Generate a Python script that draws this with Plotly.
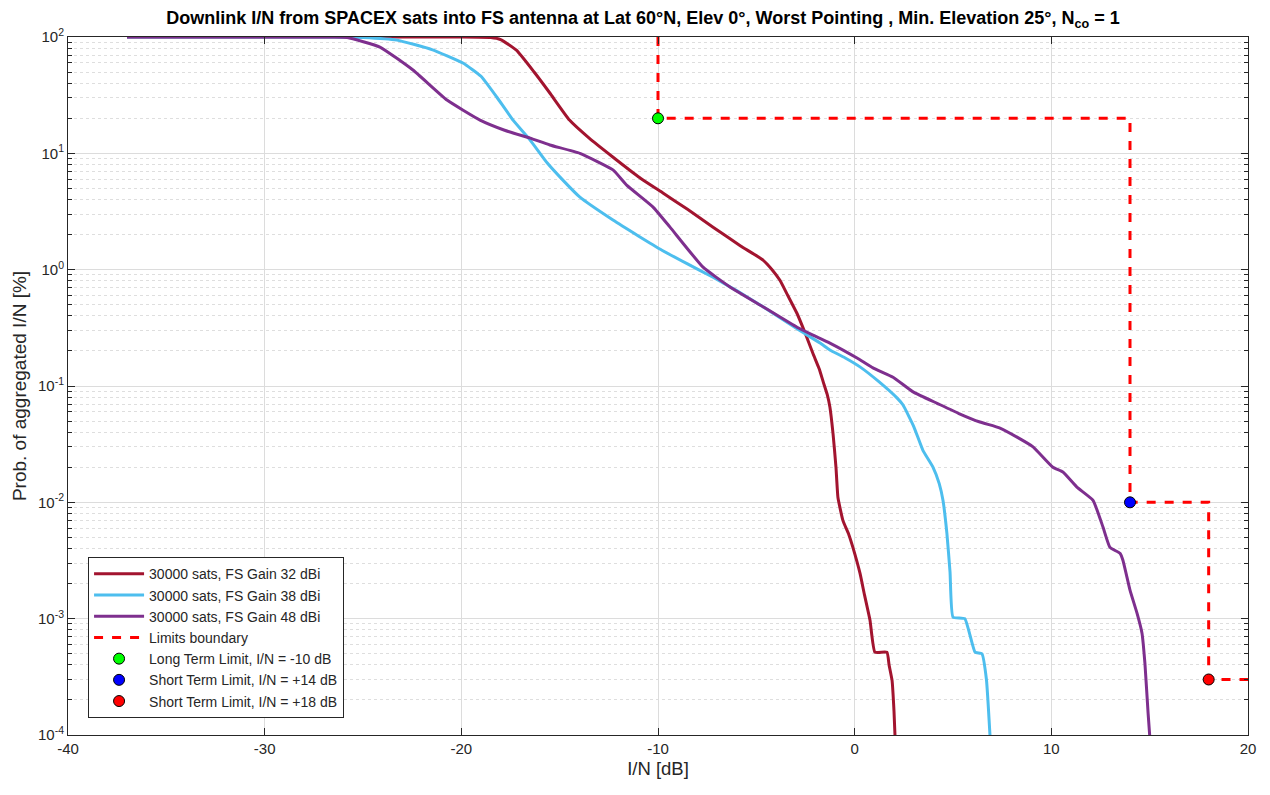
import plotly.graph_objects as go

# ---- data ----
x_32 = [-37, -20, -18.5, -18.0, -17.2, -16.3, -15.5, -14.5, -13.5, -12.3, -11.0, -9.75, -8.5, -7.2, -5.8, -4.66, -4.2, -3.8, -3.4, -2.93, -2.5, -2.12, -1.8, -1.61, -1.4, -1.26, -1.1, -0.95, -0.85, -0.6, -0.3, -0.09, 0.27, 0.5, 0.78, 1.03, 1.64, 1.75, 1.9, 2.0, 2.05]
y_32 = [100, 100, 99, 95, 77, 50, 33, 19.3, 13.5, 9.3, 6.3, 4.56, 3.3, 2.32, 1.6, 1.21, 1.0, 0.81, 0.6, 0.42, 0.28, 0.19, 0.14, 0.11, 0.085, 0.066, 0.039, 0.02, 0.011, 0.007, 0.0053, 0.0041, 0.00246, 0.0016, 0.00097, 0.000515, 0.000515, 0.0004, 0.000296, 0.00016, 0.0001]
x_38 = [-37, -26.5, -25.0, -23.27, -21.5, -19.92, -19.0, -18.2, -17.37, -16.5, -15.64, -14.8, -13.97, -12.29, -11.0, -9.8, -8.5, -7.2, -6.0, -4.66, -2.93, -1.76, -1.26, -0.5, 0.27, 1.2, 2.15, 2.46, 3.0, 3.47, 3.98, 4.3, 4.49, 4.69, 4.85, 5.0, 5.6, 6.12, 6.47, 6.7, 6.88]
y_38 = [100, 100, 99, 94, 78, 59.7, 46, 30.5, 19.3, 13, 8.3, 5.8, 4.2, 2.67, 1.95, 1.47, 1.12, 0.86, 0.66, 0.48, 0.31, 0.234, 0.204, 0.175, 0.146, 0.11, 0.079, 0.0686, 0.045, 0.028, 0.0201, 0.0145, 0.0104, 0.0054, 0.0025, 0.00103, 0.001, 0.000515, 0.0005, 0.0003, 0.0001]
x_48 = [-37, -26.5, -25.8, -24.14, -22.46, -20.73, -19.05, -17.8, -16.5, -15.5, -13.97, -12.29, -11.58, -10.25, -9.39, -7.71, -6.34, -4.66, -2.93, -2.12, -1.26, 0.12, 0.93, 1.95, 2.97, 4.19, 5.3, 6.37, 7.39, 8.3, 9.07, 10.08, 10.59, 11.3, 12.12, 12.63, 12.98, 13.49, 13.64, 14.0, 14.36, 14.61, 14.76, 14.92, 15.0]
y_48 = [100, 100, 99, 82, 52, 28.7, 19.3, 15.8, 13.5, 11.8, 10, 7.2, 5.3, 3.45, 2.32, 1.05, 0.71, 0.48, 0.32, 0.274, 0.234, 0.174, 0.143, 0.119, 0.089, 0.071, 0.058, 0.049, 0.0435, 0.036, 0.030, 0.020, 0.0182, 0.0135, 0.0104, 0.0061, 0.0041, 0.00365, 0.00318, 0.00176, 0.00111, 0.00075, 0.00041, 0.000154, 0.0001]
x_lim = [-10, -10, 14, 14, 18, 18, 20]
y_lim = [100, 20, 20, 0.01, 0.01, 0.0003, 0.0003]
pt_long = (-10, 20)
pt_short14 = (14, 0.01)
pt_short18 = (18, 0.0003)

names = ["30000 sats, FS Gain 32 dBi", "30000 sats, FS Gain 38 dBi", "30000 sats, FS Gain 48 dBi",
         "Limits boundary", "Long Term Limit, I/N = -10 dB", "Short Term Limit, I/N = +14 dB",
         "Short Term Limit, I/N = +18 dB"]

x_ticks = [-40, -30, -20, -10, 0, 10, 20]
y_ticks = [1e-4, 1e-3, 1e-2, 1e-1, 1, 10, 100]
y_ticktext = ["10<sup>-4</sup>", "10<sup>-3</sup>", "10<sup>-2</sup>", "10<sup>-1</sup>",
              "10<sup>0</sup>", "10<sup>1</sup>", "10<sup>2</sup>"]

fig = go.Figure()
fig.add_trace(go.Scatter(x=x_32, y=y_32, mode="lines", name=names[0],
                         line=dict(color="#A2142F", width=3, shape="spline", smoothing=0.4)))
fig.add_trace(go.Scatter(x=x_38, y=y_38, mode="lines", name=names[1],
                         line=dict(color="#4DBEEE", width=3, shape="spline", smoothing=0.4)))
fig.add_trace(go.Scatter(x=x_48, y=y_48, mode="lines", name=names[2],
                         line=dict(color="#7E2F8E", width=3, shape="spline", smoothing=0.4)))
fig.add_trace(go.Scatter(x=x_lim, y=y_lim, mode="lines", name=names[3],
                         line=dict(color="#FF0000", width=3, dash="dash")))
for (px, py), nm, col in [(pt_long, names[4], "#00FF00"), (pt_short14, names[5], "#0000FF"),
                          (pt_short18, names[6], "#FF0000")]:
    fig.add_trace(go.Scatter(x=[px], y=[py], mode="markers", name=nm,
                             marker=dict(color=col, size=11, line=dict(color="black", width=1)),
                             cliponaxis=False))

minor_vals = [m * 10 ** e for e in range(-4, 2) for m in range(2, 10)]

fig.update_layout(
    width=1270, height=795,
    paper_bgcolor="white", plot_bgcolor="white",
    margin=dict(l=60, r=30, t=29, b=68),
    font=dict(family="Liberation Sans, Arial, sans-serif", size=15, color="#262626"),
    title=dict(text="<b>Downlink I/N from SPACEX sats into FS antenna at Lat 60°N, Elev 0°, Worst Pointing , Min. Elevation 25°, N<sub>co</sub> = 1</b>",
               x=0.5, xref="container", xanchor="center", y=1 - 10 / 795, yref="container", yanchor="middle",
               font=dict(size=18, color="black")),
    showlegend=True,
    legend=dict(x=0.017, y=0.024, xanchor="left", yanchor="bottom",
                bgcolor="white", bordercolor="#262626", borderwidth=1,
                font=dict(size=14, color="#262626"), tracegroupgap=0, itemwidth=50),
    xaxis=dict(range=[-40, 20], tickvals=x_ticks, ticktext=[str(v) for v in x_ticks],
               showline=True, linecolor="#262626", linewidth=1, mirror="ticks",
               ticks="inside", ticklen=7, tickcolor="#262626", tickfont=dict(size=15),
               showgrid=True, gridcolor="#dcdcdc", gridwidth=1, zeroline=False,
               title=dict(text="I/N [dB]", font=dict(size=18.5), standoff=6)),
    yaxis=dict(type="log", range=[-4, 2], tickvals=y_ticks, ticktext=y_ticktext,
               showline=True, linecolor="#262626", linewidth=1, mirror="ticks",
               ticks="inside", ticklen=7, tickcolor="#262626", tickfont=dict(size=15),
               showgrid=True, gridcolor="#dcdcdc", gridwidth=1, zeroline=False,
               minor=dict(tickvals=minor_vals, ticks="inside", ticklen=4, tickcolor="#262626",
                          showgrid=True, gridcolor="#dedede", griddash="dot", gridwidth=1),
               title=dict(text="Prob. of aggregated I/N [%]", font=dict(size=19), standoff=6)),
)

fig.write_html("out.html")
